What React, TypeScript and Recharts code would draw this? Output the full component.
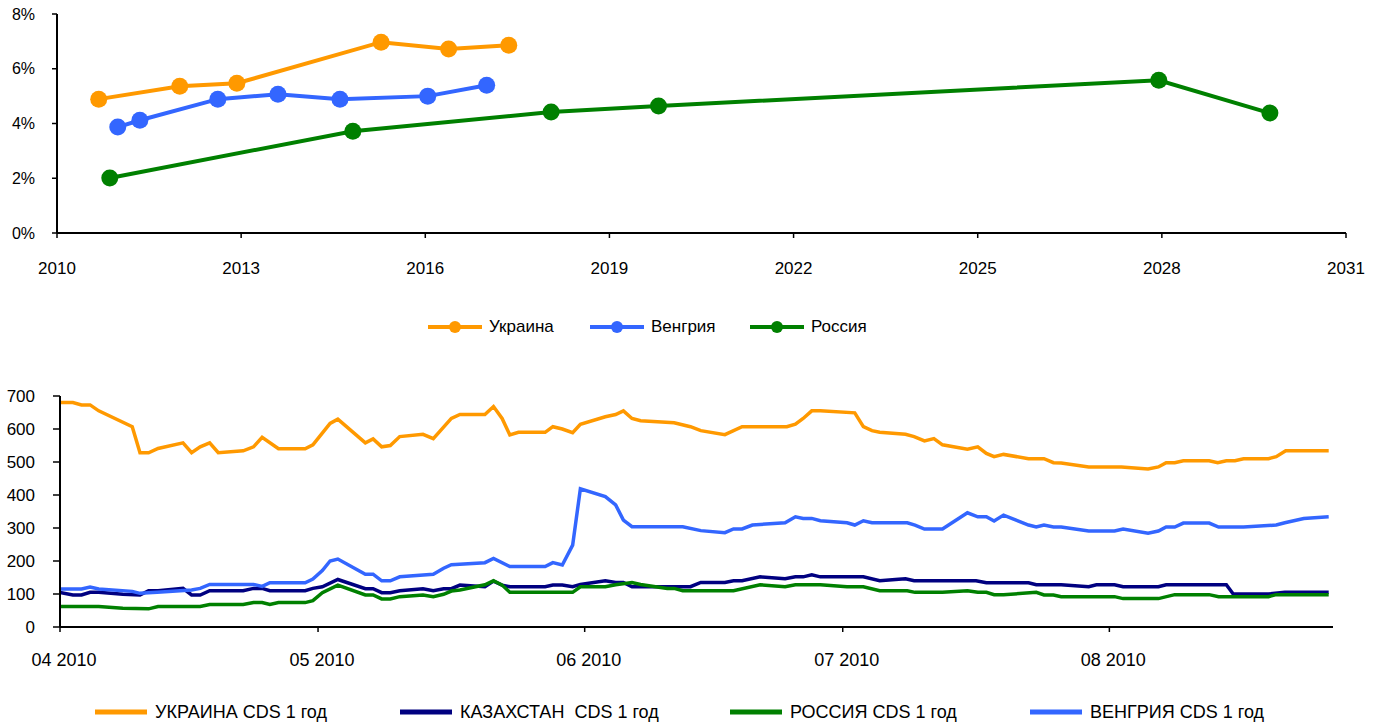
import React from 'react';
import { LineChart, Line, XAxis, YAxis, Legend } from 'recharts';

const FONT = '"Liberation Sans", Arial, sans-serif';

// ---------- Top chart: yield curves ----------
const yearTicks = [2010, 2013, 2016, 2019, 2022, 2025, 2028, 2031];
const pctTicks = [0, 2, 4, 6, 8];

const ukraineYears = [2010.68, 2012.0, 2012.93, 2015.28, 2016.38, 2017.36];
const ukraineYields = [4.89, 5.36, 5.47, 6.97, 6.72, 6.86];

const hungaryYears = [2010.99, 2011.35, 2012.62, 2013.6, 2014.61, 2016.04, 2017.0];
const hungaryYields = [3.87, 4.12, 4.89, 5.07, 4.89, 5.0, 5.4];

const russiaYears = [2010.86, 2014.82, 2018.05, 2019.8, 2027.95, 2029.76];
const russiaYields = [2.01, 3.72, 4.42, 4.64, 5.58, 4.38];

// ---------- Bottom chart: CDS 1 year (days since 1 Apr 2010) ----------
const monthTickDays = [0, 30, 61, 91, 122];
const monthTickLabels = ['04 2010', '05 2010', '06 2010', '07 2010', '08 2010'];
const cdsTicks = [0, 100, 200, 300, 400, 500, 600, 700];

const ukrCdsDays = [0, 1.5, 2.5, 3.5, 4.5, 8.4, 9.3, 10.3, 11.4, 14.3, 15.3, 16.3, 17.4, 18.4, 21.3, 22.5, 23.5, 25.4, 28.5, 29.4, 31.4, 32.3, 35.5, 36.4, 37.4, 38.4, 39.5, 42.2, 43.4, 45.5, 46.5, 49.4, 50.4, 51.4, 52.3, 53.3, 56.4, 57.3, 58.4, 59.6, 60.5, 63.4, 64.6, 65.5, 66.5, 67.5, 71.4, 73.3, 74.5, 77.3, 79.3, 84.5, 85.5, 86.4, 87.4, 88.4, 92.4, 93.4, 94.4, 95.3, 98.3, 99.3, 100.5, 101.6, 102.6, 105.5, 106.7, 107.7, 108.6, 109.7, 112.6, 114.4, 115.5, 116.4, 119.6, 123.4, 126.5, 127.7, 128.6, 129.6, 130.6, 133.6, 134.6, 135.6, 136.6, 137.6, 140.5, 141.4, 142.5, 147.5];
const ukrCdsValues = [680, 680, 673, 673, 655, 607, 528, 528, 541, 558, 528, 546, 558, 528, 534, 546, 575, 540, 540, 552, 617, 630, 558, 570, 546, 550, 577, 584, 571, 632, 644, 644, 668, 632, 582, 590, 590, 607, 600, 589, 614, 637, 644, 655, 632, 625, 619, 607, 595, 583, 607, 607, 615, 632, 655, 655, 649, 607, 595, 590, 584, 577, 564, 571, 552, 539, 546, 526, 516, 523, 510, 510, 498, 497, 485, 485, 479, 485, 498, 498, 504, 504, 498, 504, 504, 510, 510, 516, 534, 534];

const kazCdsDays = [0, 1.5, 2.5, 3.5, 4.5, 7.3, 9.3, 10.3, 11.4, 14.3, 15.3, 16.3, 17.4, 21.3, 22.5, 23.5, 24.4, 28.5, 29.4, 30.5, 32.3, 35.5, 36.4, 37.4, 38.4, 39.5, 42.2, 43.4, 44.6, 45.5, 46.5, 49.4, 50.4, 51.4, 52.3, 56.4, 57.3, 58.4, 59.6, 60.5, 63.4, 64.6, 65.5, 66.5, 73.3, 74.5, 77.3, 78.3, 79.3, 81.4, 84.3, 85.5, 86.4, 87.4, 88.4, 93.4, 95.3, 97.5, 98.3, 99.3, 106.5, 107.7, 112.6, 113.5, 116.4, 119.6, 120.5, 122.6, 123.6, 127.7, 128.6, 135.6, 136.4, 140.5, 142.4, 147.5];
const kazCdsValues = [105, 97, 97, 105, 105, 99, 97, 110, 110, 117, 97, 97, 110, 110, 117, 117, 110, 110, 117, 122, 144, 116, 116, 104, 104, 110, 116, 110, 116, 116, 127, 122, 139, 127, 122, 122, 127, 127, 122, 129, 140, 135, 135, 122, 122, 135, 135, 140, 140, 152, 146, 152, 152, 158, 152, 152, 140, 145, 146, 140, 140, 134, 134, 128, 128, 122, 128, 128, 122, 122, 128, 128, 100, 100, 105, 105];

const rusCdsDays = [0, 4.5, 7.3, 10.3, 11.4, 16.3, 17.4, 21.3, 22.5, 23.5, 24.4, 25.4, 28.5, 29.4, 30.5, 32.3, 35.5, 36.4, 37.4, 38.4, 39.5, 42.2, 43.4, 44.6, 45.5, 46.5, 49.4, 50.4, 51.4, 52.3, 59.6, 60.5, 63.4, 64.6, 66.5, 67.5, 70.6, 71.4, 72.4, 78.3, 81.4, 84.3, 85.5, 88.4, 91.5, 93.4, 95.3, 98.5, 99.4, 102.6, 105.5, 106.7, 107.7, 108.6, 109.7, 113.5, 114.4, 115.5, 116.4, 122.6, 123.6, 127.7, 129.6, 133.6, 134.7, 140.5, 141.4, 147.5];
const rusCdsValues = [62, 62, 57, 55, 62, 62, 68, 68, 74, 74, 68, 74, 74, 80, 104, 127, 97, 97, 85, 85, 92, 97, 92, 99, 109, 112, 128, 140, 127, 105, 105, 122, 122, 128, 135, 129, 117, 117, 110, 110, 128, 122, 128, 128, 122, 122, 110, 110, 105, 105, 110, 105, 105, 98, 98, 105, 97, 97, 92, 92, 86, 86, 98, 98, 92, 92, 98, 98];

const hunCdsDays = [0, 2.5, 3.5, 4.5, 8.4, 9.3, 11.3, 15.3, 16.3, 17.4, 22.5, 23.5, 24.4, 28.5, 29.4, 30.5, 31.4, 32.3, 35.5, 36.4, 37.4, 38.4, 39.5, 43.4, 44.6, 45.5, 49.4, 50.4, 52.3, 56.4, 57.3, 58.4, 59.6, 60.5, 63.4, 64.6, 65.5, 66.5, 72.4, 74.5, 77.3, 78.3, 79.3, 80.5, 84.3, 85.5, 86.4, 87.4, 88.4, 91.5, 92.4, 93.4, 94.4, 98.5, 99.4, 100.5, 102.6, 105.5, 106.7, 107.7, 108.6, 109.7, 112.6, 113.5, 114.4, 115.5, 116.4, 119.6, 122.6, 123.6, 126.5, 127.7, 128.6, 129.6, 130.6, 133.6, 134.7, 137.6, 141.4, 142.4, 144.6, 147.5];
const hunCdsValues = [115, 115, 121, 115, 108, 102, 105, 112, 117, 129, 129, 123, 134, 134, 145, 171, 200, 206, 160, 160, 140, 140, 152, 160, 178, 189, 195, 208, 183, 183, 195, 188, 248, 419, 395, 370, 324, 304, 304, 292, 286, 297, 297, 309, 316, 334, 329, 329, 322, 316, 309, 322, 316, 316, 309, 297, 297, 346, 334, 334, 321, 339, 309, 303, 309, 303, 303, 291, 291, 297, 284, 291, 303, 303, 315, 315, 303, 303, 309, 316, 329, 334];

const zip = (xs: number[], ys: number[]) => xs.map((x, i) => ({ x, y: ys[i] }));

const ORANGE = '#FF9900';
const BLUE = '#3366FF';
const GREEN = '#008000';
const NAVY = '#000080';

const topSeries = [
  { name: 'Украина', color: ORANGE, data: zip(ukraineYears, ukraineYields) },
  { name: 'Венгрия', color: BLUE, data: zip(hungaryYears, hungaryYields) },
  { name: 'Россия', color: GREEN, data: zip(russiaYears, russiaYields) },
];

const bottomSeries = [
  { name: 'УКРАИНА CDS 1 год', color: ORANGE, data: zip(ukrCdsDays, ukrCdsValues) },
  { name: 'КАЗАХСТАН  CDS 1 год', color: NAVY, data: zip(kazCdsDays, kazCdsValues) },
  { name: 'РОССИЯ CDS 1 год', color: GREEN, data: zip(rusCdsDays, rusCdsValues) },
  { name: 'ВЕНГРИЯ CDS 1 год', color: BLUE, data: zip(hunCdsDays, hunCdsValues) },
];

const TOP_LEGEND_LEFT = [428, 590, 750];
const BOTTOM_LEGEND_LEFT = [95, 400, 730, 1030];

const TopLegend = () => (
  <div style={{ position: 'relative', height: 20, fontFamily: FONT, fontSize: 17, color: '#000' }}>
    {topSeries.map((s, i) => (
      <div key={s.name} style={{ position: 'absolute', left: TOP_LEGEND_LEFT[i], top: 0, height: 20, display: 'flex', alignItems: 'center' }}>
        <svg width={54} height={16} style={{ display: 'block' }}>
          <line x1={0} y1={8} x2={54} y2={8} stroke={s.color} strokeWidth={4} />
          <circle cx={27} cy={8} r={6} fill={s.color} />
        </svg>
        <span style={{ marginLeft: 7, whiteSpace: 'pre' }}>{s.name}</span>
      </div>
    ))}
  </div>
);

const BottomLegend = () => (
  <div style={{ position: 'relative', height: 20, fontFamily: FONT, fontSize: 18, color: '#000' }}>
    {bottomSeries.map((s, i) => (
      <div key={s.name} style={{ position: 'absolute', left: BOTTOM_LEGEND_LEFT[i], top: 0, height: 20, display: 'flex', alignItems: 'center' }}>
        <svg width={52} height={10} style={{ display: 'block' }}>
          <line x1={0} y1={5} x2={52} y2={5} stroke={s.color} strokeWidth={5} />
        </svg>
        <span style={{ marginLeft: 8, whiteSpace: 'pre' }}>{s.name}</span>
      </div>
    ))}
  </div>
);

export default function App() {
  return (
    <div style={{ position: 'absolute', left: 0, top: 0, width: 1379, height: 726, background: '#fff', fontFamily: FONT }}>
      <div style={{ position: 'absolute', left: 0, top: 0 }}>
        <LineChart width={1379} height={350} margin={{ top: 14, right: 33, left: 0, bottom: 0 }}>
          <XAxis
            type="number"
            dataKey="x"
            domain={[2010, 2031]}
            ticks={yearTicks}
            interval={0}
            height={117}
            tickSize={5}
            tickMargin={24}
            tick={{ fill: '#000', fontSize: 17, fontFamily: FONT }}
            tickLine={{ stroke: '#000', strokeWidth: 1.5 }}
            axisLine={{ stroke: '#000', strokeWidth: 2 }}
            allowDataOverflow
          />
          <YAxis
            type="number"
            domain={[0, 8]}
            ticks={pctTicks}
            interval={0}
            width={57}
            tickSize={5}
            tickMargin={17}
            tickFormatter={(v: number) => `${v}%`}
            tick={{ fill: '#000', fontSize: 16, fontFamily: FONT }}
            tickLine={{ stroke: '#000', strokeWidth: 1.5 }}
            axisLine={{ stroke: '#000', strokeWidth: 2 }}
            allowDataOverflow
          />
          {topSeries.map((s) => (
            <Line
              key={s.name}
              data={s.data}
              dataKey="y"
              name={s.name}
              type="linear"
              stroke={s.color}
              strokeWidth={4}
              dot={{ r: 8.5, fill: s.color, stroke: s.color, strokeWidth: 0 }}
              activeDot={false}
              isAnimationActive={false}
            />
          ))}
          <Legend verticalAlign="middle" content={TopLegend} wrapperStyle={{ top: 317, left: 0, width: 1379 }} />
        </LineChart>
      </div>
      <div style={{ position: 'absolute', left: 0, top: 380 }}>
        <LineChart width={1379} height={346} margin={{ top: 16, right: 46, left: 0, bottom: 0 }}>
          <XAxis
            type="number"
            dataKey="x"
            domain={[0, 148]}
            ticks={monthTickDays}
            interval={0}
            height={99}
            tickSize={5}
            tickMargin={21}
            tickFormatter={(v: number) => monthTickLabels[monthTickDays.indexOf(v)] ?? ''}
            tick={{ fill: '#000', fontSize: 18, fontFamily: FONT, dx: 4 }}
            tickLine={{ stroke: '#000', strokeWidth: 1.5 }}
            axisLine={{ stroke: '#000', strokeWidth: 2 }}
            allowDataOverflow
          />
          <YAxis
            type="number"
            domain={[0, 700]}
            ticks={cdsTicks}
            interval={0}
            width={60}
            tickSize={7}
            tickMargin={18}
            tick={{ fill: '#000', fontSize: 17, fontFamily: FONT }}
            tickLine={{ stroke: '#000', strokeWidth: 1.5 }}
            axisLine={{ stroke: '#000', strokeWidth: 2 }}
            allowDataOverflow
          />
          {bottomSeries.map((s) => (
            <Line
              key={s.name}
              data={s.data}
              dataKey="y"
              name={s.name}
              type="linear"
              stroke={s.color}
              strokeWidth={3.5}
              dot={false}
              activeDot={false}
              isAnimationActive={false}
            />
          ))}
          <Legend verticalAlign="middle" content={BottomLegend} wrapperStyle={{ top: 322, left: 0, width: 1379 }} />
        </LineChart>
      </div>
    </div>
  );
}
